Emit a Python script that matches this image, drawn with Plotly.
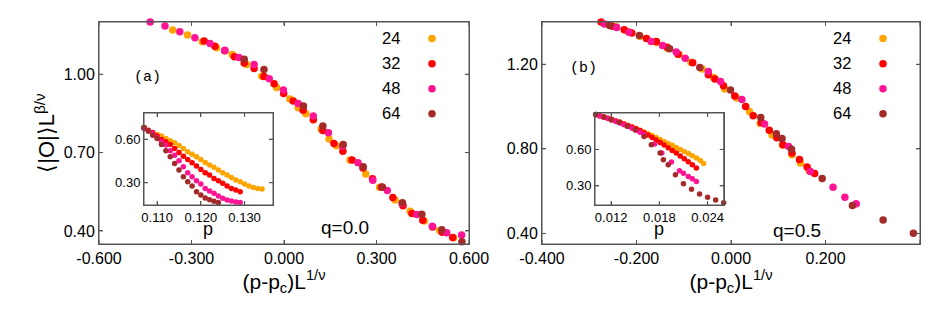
import plotly.graph_objects as go

# ---------------- data ----------------
sizes = ["24", "32", "48", "64"]
colors = ["#FFA500", "#FF0000", "#FF1493", "#A52A2A"]

# panel (a) main collapse, q = 0.0
a_x24 = [-0.361, -0.313, -0.265, -0.219, -0.168, -0.121, -0.072, -0.024, 0.019, 0.046, 0.071,
         0.120, 0.146, 0.170, 0.214, 0.265, 0.310, 0.360, 0.409, 0.455, 0.505, 0.550]
a_y24 = [1.169, 1.150, 1.124, 1.101, 1.076, 1.037, 0.992, 0.949, 0.905, 0.872, 0.849,
         0.790, 0.752, 0.726, 0.672, 0.618, 0.567, 0.518, 0.475, 0.438, 0.402, 0.374]
a_x32 = [-0.259, -0.224, -0.192, -0.161, -0.129, -0.097, -0.065, -0.032, -0.001, 0.030, 0.062,
         0.095, 0.126, 0.162, 0.191, 0.221, 0.256, 0.287, 0.316, 0.353, 0.386, 0.415, 0.450,
         0.482, 0.513, 0.547]
a_y32 = [1.127, 1.107, 1.090, 1.067, 1.043, 1.022, 0.991, 0.964, 0.926, 0.898, 0.862,
         0.826, 0.785, 0.735, 0.705, 0.672, 0.641, 0.600, 0.567, 0.528, 0.496, 0.467, 0.441,
         0.415, 0.395, 0.375]
a_x48 = [-0.434, -0.386, -0.338, -0.289, -0.240, -0.192, -0.146, -0.097, -0.048, -0.002, 0.046,
         0.095, 0.144, 0.190, 0.240, 0.288, 0.335, 0.383, 0.431, 0.481, 0.528, 0.576]
a_y48 = [1.200, 1.185, 1.163, 1.140, 1.118, 1.092, 1.064, 1.037, 0.983, 0.940, 0.888,
         0.840, 0.776, 0.724, 0.661, 0.594, 0.555, 0.505, 0.463, 0.418, 0.393, 0.384]
a_x64 = [-0.129, -0.065, 0.063, 0.126, 0.192, 0.257, 0.319, 0.384, 0.447, 0.512, 0.577]
a_y64 = [1.057, 1.018, 0.878, 0.802, 0.731, 0.646, 0.568, 0.508, 0.464, 0.405, 0.359]

# panel (a) inset, raw data vs p
ai_p24 = [0.107, 0.108, 0.109, 0.110, 0.111, 0.112, 0.113, 0.114, 0.115, 0.116, 0.117, 0.118, 0.119,
          0.120, 0.121, 0.122, 0.123, 0.124, 0.125, 0.126, 0.127, 0.128, 0.129, 0.130, 0.131,
          0.132, 0.133, 0.134]
ai_o24 = [0.680, 0.657, 0.643, 0.632, 0.621, 0.605, 0.589, 0.575, 0.557, 0.536, 0.513, 0.497, 0.479,
          0.460, 0.440, 0.422, 0.406, 0.387, 0.369, 0.353, 0.337, 0.319, 0.307, 0.291, 0.277,
          0.268, 0.261, 0.257]
ai_p32 = [0.107, 0.108, 0.109, 0.110, 0.111, 0.112, 0.113, 0.114, 0.115, 0.116, 0.117, 0.118, 0.119,
          0.120, 0.121, 0.122, 0.123, 0.124, 0.125, 0.126, 0.127, 0.128, 0.129]
ai_o32 = [0.680, 0.662, 0.646, 0.621, 0.598, 0.582, 0.563, 0.536, 0.508, 0.483, 0.460, 0.438, 0.415,
          0.392, 0.369, 0.353, 0.330, 0.314, 0.296, 0.277, 0.261, 0.250, 0.238]
ai_p48 = [0.107, 0.108, 0.109, 0.110, 0.111, 0.112, 0.113, 0.114, 0.115, 0.116, 0.117, 0.118, 0.119,
          0.120, 0.121, 0.122, 0.123, 0.124, 0.125, 0.126, 0.127, 0.128, 0.129]
ai_o48 = [0.673, 0.657, 0.639, 0.611, 0.582, 0.559, 0.520, 0.490, 0.451, 0.410, 0.369, 0.341, 0.314,
          0.291, 0.261, 0.243, 0.227, 0.209, 0.193, 0.181, 0.174, 0.168, 0.165]
ai_p64 = [0.107, 0.108, 0.109, 0.110, 0.111, 0.112, 0.113, 0.114, 0.115, 0.116, 0.117, 0.118, 0.119,
          0.120, 0.121, 0.122, 0.123, 0.124]
ai_o64 = [0.680, 0.657, 0.627, 0.605, 0.563, 0.520, 0.479, 0.433, 0.387, 0.341, 0.307, 0.277, 0.238,
          0.216, 0.195, 0.183, 0.172, 0.165]

# panel (b) main collapse, q = 0.5
b_x24 = [-0.270, -0.243, -0.218, -0.193, -0.158, -0.134, -0.110, -0.085, -0.061, -0.037, -0.013,
         0.012, 0.039, 0.062, 0.087, 0.109, 0.129, 0.147, 0.165]
b_y24 = [1.403, 1.377, 1.355, 1.333, 1.303, 1.275, 1.246, 1.210, 1.178, 1.137, 1.083,
         1.040, 0.977, 0.920, 0.865, 0.818, 0.772, 0.733, 0.697]
b_x32 = [-0.275, -0.251, -0.226, -0.210, -0.179, -0.158, -0.135, -0.112, -0.081, -0.048, -0.034,
         -0.016, 0.008, 0.031, 0.047, 0.064, 0.081, 0.097, 0.110, 0.129, 0.145, 0.161, 0.177]
b_y32 = [1.400, 1.380, 1.363, 1.348, 1.322, 1.308, 1.280, 1.248, 1.207, 1.151, 1.130,
         1.098, 1.050, 1.000, 0.957, 0.925, 0.888, 0.852, 0.819, 0.780, 0.750, 0.714, 0.684]
b_x48 = [-0.268, -0.242, -0.216, -0.169, -0.145, -0.116, -0.097, -0.048, -0.022, 0.023, 0.071,
         0.122, 0.168, 0.216, 0.241, 0.265]
b_y48 = [1.390, 1.374, 1.352, 1.308, 1.289, 1.258, 1.229, 1.166, 1.119, 1.034, 0.918,
         0.811, 0.693, 0.619, 0.571, 0.540]
b_x64 = [-0.257, -0.194, -0.130, -0.066, -0.001, 0.063, 0.096, 0.108, 0.128, 0.193, 0.257,
         0.322, 0.386]
b_y64 = [1.384, 1.336, 1.273, 1.185, 1.078, 0.948, 0.872, 0.849, 0.798, 0.660, 0.532,
         0.464, 0.401]

# panel (b) inset, raw data vs p
bi_p24 = [0.0101, 0.0106, 0.0111, 0.0116, 0.0121, 0.0126, 0.0131, 0.0136, 0.0141, 0.0146,
          0.0151, 0.0156, 0.0161, 0.0166, 0.0171, 0.0176, 0.0181, 0.0186, 0.0191, 0.0196,
          0.0201, 0.0206, 0.0211, 0.0216, 0.0221, 0.0226, 0.0231, 0.0235]
bi_o24 = [0.887, 0.878, 0.868, 0.857, 0.846, 0.835, 0.823, 0.811, 0.798, 0.785,
          0.772, 0.758, 0.744, 0.729, 0.714, 0.698, 0.682, 0.666, 0.650, 0.634,
          0.617, 0.600, 0.583, 0.566, 0.548, 0.530, 0.510, 0.485]
bi_p32 = [0.0101, 0.0106, 0.0111, 0.0116, 0.0121, 0.0126, 0.0131, 0.0136, 0.0141, 0.0146,
          0.0151, 0.0156, 0.0161, 0.0166, 0.0171, 0.0176, 0.0181, 0.0186, 0.0191, 0.0196,
          0.0201, 0.0206, 0.0211, 0.0216, 0.0221, 0.0226]
bi_o32 = [0.887, 0.878, 0.868, 0.857, 0.846, 0.835, 0.823, 0.810, 0.797, 0.784,
          0.770, 0.755, 0.737, 0.718, 0.698, 0.678, 0.657, 0.636, 0.614, 0.592,
          0.570, 0.547, 0.523, 0.499, 0.474, 0.448]
bi_p48 = [0.0101, 0.0106, 0.0111, 0.0116, 0.0121, 0.0126, 0.0131, 0.0136, 0.0141, 0.0146,
          0.0151, 0.0156, 0.0161, 0.0174, 0.0183, 0.0195, 0.0205, 0.0210, 0.0216, 0.0221, 0.0226]
bi_o48 = [0.885, 0.876, 0.866, 0.855, 0.843, 0.831, 0.818, 0.804, 0.790, 0.775,
          0.759, 0.742, 0.724, 0.645, 0.570, 0.496, 0.424, 0.405, 0.377, 0.358, 0.336]
bi_p64 = [0.0101, 0.0111, 0.0120, 0.0130, 0.0140, 0.0150, 0.0161, 0.0170, 0.0181, 0.0185,
          0.0191, 0.0200, 0.0210, 0.0220, 0.0230, 0.0240, 0.0250, 0.0260]
bi_o64 = [0.887, 0.868, 0.845, 0.823, 0.790, 0.763, 0.707, 0.639, 0.570, 0.515,
          0.474, 0.391, 0.317, 0.273, 0.234, 0.207, 0.184, 0.162]

# tick labels
a_xticks = [-0.6, -0.3, 0.0, 0.3, 0.6]
a_xlabels = ["-0.600", "-0.300", "0.000", "0.300", "0.600"]
a_yticks = [0.4, 0.7, 1.0]
a_ylabels = ["0.40", "0.70", "1.00"]
b_xticks = [-0.4, -0.2, 0.0, 0.2, 0.4]
b_xlabels = ["-0.400", "-0.200", "0.000", "0.200", "0.400"]
b_yticks = [0.4, 0.8, 1.2]
b_ylabels = ["0.40", "0.80", "1.20"]
ai_xticks = [0.110, 0.120, 0.130]
ai_xlabels = ["0.110", "0.120", "0.130"]
ai_yticks = [0.30, 0.60]
ai_ylabels = ["0.30", "0.60"]
bi_xticks = [0.012, 0.018, 0.024]
bi_xlabels = ["0.012", "0.018", "0.024"]
bi_yticks = [0.30, 0.60]
bi_ylabels = ["0.30", "0.60"]

# ---------------- figure ----------------
FONT = "Liberation Sans, Arial, sans-serif"
fig = go.Figure()

a_main = [(a_x24, a_y24), (a_x32, a_y32), (a_x48, a_y48), (a_x64, a_y64)]
b_main = [(b_x24, b_y24), (b_x32, b_y32), (b_x48, b_y48), (b_x64, b_y64)]
a_ins = [(ai_p24, ai_o24), (ai_p32, ai_o32), (ai_p48, ai_o48), (ai_p64, ai_o64)]
b_ins = [(bi_p24, bi_o24), (bi_p32, bi_o32), (bi_p48, bi_o48), (bi_p64, bi_o64)]

for i, (xs, ys) in enumerate(a_main):
    fig.add_trace(go.Scatter(x=xs, y=ys, mode="markers", name=" ", legend="legend",
                             marker=dict(color=colors[i], size=7.5), cliponaxis=False,
                             xaxis="x", yaxis="y"))
for i, (xs, ys) in enumerate(b_main):
    fig.add_trace(go.Scatter(x=xs, y=ys, mode="markers", name=" ", legend="legend2",
                             marker=dict(color=colors[i], size=7.5), cliponaxis=False,
                             xaxis="x2", yaxis="y2"))
for i, (xs, ys) in enumerate(a_ins):
    fig.add_trace(go.Scatter(x=xs, y=ys, mode="markers", showlegend=False,
                             marker=dict(color=colors[i], size=5.5), cliponaxis=False,
                             xaxis="x3", yaxis="y3"))
for i, (xs, ys) in enumerate(b_ins):
    fig.add_trace(go.Scatter(x=xs, y=ys, mode="markers", showlegend=False,
                             marker=dict(color=colors[i], size=5.5), cliponaxis=False,
                             xaxis="x4", yaxis="y4"))

W, H = 926, 310
def px(x):
    return x / W
def py(y):
    return 1 - y / H

LC = "#555555"
ax_common = dict(showline=True, linecolor=LC, linewidth=1, mirror="ticks",
                 ticks="inside", ticklen=4, tickwidth=1, tickcolor=LC, showgrid=False,
                 zeroline=False, tickmode="array", automargin=False, layer="above traces")

fig.update_layout(
    template="none",
    width=W, height=H, margin=dict(l=0, r=0, t=0, b=0, autoexpand=False),
    paper_bgcolor="white", plot_bgcolor="rgba(0,0,0,0)",
    font=dict(family=FONT, color="black"),
    xaxis=dict(domain=[px(99), px(469)], range=[-0.6, 0.6], tickvals=a_xticks, ticktext=a_xlabels,
               tickfont=dict(size=16), anchor="y",
               title=dict(text="(p-p<sub>c</sub>)L<sup>1/ν</sup>", font=dict(size=21), standoff=4),
               **ax_common),
    yaxis=dict(domain=[py(244), py(22)], range=[0.35, 1.20], tickvals=a_yticks, ticktext=a_ylabels,
               tickfont=dict(size=16), anchor="x",
               title=dict(text="⟨|O|⟩L<sup>β/ν</sup>", font=dict(size=22), standoff=2),
               **ax_common),
    xaxis2=dict(domain=[px(542), px(920)], range=[-0.4, 0.4], tickvals=b_xticks, ticktext=b_xlabels,
                tickfont=dict(size=16), anchor="y2",
                title=dict(text="(p-p<sub>c</sub>)L<sup>1/ν</sup>", font=dict(size=21), standoff=4),
                **ax_common),
    yaxis2=dict(domain=[py(244), py(22)], range=[0.35, 1.40], tickvals=b_yticks, ticktext=b_ylabels,
                tickfont=dict(size=16), anchor="x2", **ax_common),
    xaxis3=dict(domain=[px(144), px(273)], range=[0.107, 0.1365], tickvals=ai_xticks, ticktext=ai_xlabels,
                tickfont=dict(size=13), anchor="y3", **ax_common),
    yaxis3=dict(domain=[py(205), py(113)], range=[0.147, 0.78], tickvals=ai_yticks, ticktext=ai_ylabels,
                tickfont=dict(size=13), anchor="x3", **ax_common),
    xaxis4=dict(domain=[px(595), px(723.7)], range=[0.010, 0.026], tickvals=bi_xticks, ticktext=bi_xlabels,
                tickfont=dict(size=13), anchor="y4", **ax_common),
    yaxis4=dict(domain=[py(205), py(113)], range=[0.143, 0.90], tickvals=bi_yticks, ticktext=bi_ylabels,
                tickfont=dict(size=13), anchor="x4", **ax_common),
    legend=dict(x=px(412), y=py(21), xanchor="left", yanchor="top", bgcolor="rgba(0,0,0,0)",
                font=dict(size=17), itemsizing="trace", tracegroupgap=0, borderwidth=0),
    legend2=dict(x=px(863), y=py(21), xanchor="left", yanchor="top", bgcolor="rgba(0,0,0,0)",
                 font=dict(size=17), itemsizing="trace", tracegroupgap=0, borderwidth=0),
)

# frames of the four plotting areas, and inward tick marks on all four sides
TL = 4  # tick length in pixels
panels = [("x", "y", a_xticks, a_yticks, 370, 222),
          ("x2", "y2", b_xticks, b_yticks, 378, 222),
          ("x3", "y3", ai_xticks, ai_yticks, 129, 92),
          ("x4", "y4", bi_xticks, bi_yticks, 128.7, 92)]
shapes = []
for xr, yr, xt, yt, wpx, hpx in panels:
    shapes.append(dict(type="rect", xref=xr + " domain", yref=yr + " domain", x0=0, x1=1, y0=0, y1=1,
                       line=dict(color=LC, width=1), fillcolor="rgba(0,0,0,0)", layer="above"))
    fy = TL / hpx
    fx = TL / wpx
    for t in xt:
        for a, b in [(0, fy), (1 - fy, 1)]:
            shapes.append(dict(type="line", xref=xr, yref=yr + " domain", x0=t, x1=t, y0=a, y1=b,
                               line=dict(color=LC, width=1), layer="above"))
    for t in yt:
        for a, b in [(0, fx), (1 - fx, 1)]:
            shapes.append(dict(type="line", xref=xr + " domain", yref=yr, x0=a, x1=b, y0=t, y1=t,
                               line=dict(color=LC, width=1), layer="above"))
fig.update_layout(shapes=shapes)

def note(x, y, text, size, family=FONT):
    return dict(x=px(x), y=py(y), xref="paper", yref="paper", text=text, showarrow=False,
                xanchor="center", yanchor="middle", font=dict(size=size, family=family))

MONO = "Liberation Mono, Courier New, monospace"
ann = []
for i, s in enumerate(sizes):
    ann.append(note(391, 38 + 25 * i, s, 16.5))
    ann.append(note(842, 38 + 25 * i, s, 16.5))
ann.append(note(147, 77, "(a)", 15, MONO))
ann.append(note(583, 68, "(b)", 15, MONO))
ann.append(note(345, 227, "q=0.0", 19))
ann.append(note(797, 230, "q=0.5", 19))
# inset x-axis titles
ann.append(note(208, 229, "p", 18))
ann.append(note(659, 229, "p", 18))
fig.update_layout(annotations=ann)

fig.write_html("out.html", post_script="document.body.style.margin='0px';",
               config={"displayModeBar": False})
